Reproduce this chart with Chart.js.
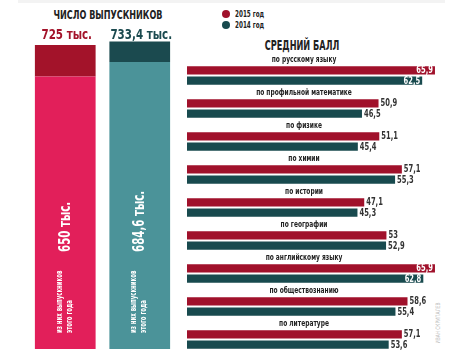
<!DOCTYPE html>
<html><head><meta charset="utf-8">
<script src="https://cdn.jsdelivr.net/npm/chart.js@4"></script>
<style>
html,body{margin:0;padding:0;background:#fff;}
body{width:475px;height:356px;position:relative;overflow:hidden;font-family:"Liberation Sans Narrow","DejaVu Sans Condensed",sans-serif;font-weight:bold;color:#222;}
canvas{position:absolute;top:0;}
#left{left:0;}
#right{left:180px;}
.t{position:absolute;white-space:nowrap;}
.dot{position:absolute;width:8px;height:8px;border-radius:50%;}
</style></head><body>
<div style="position:absolute;left:18px;top:0;width:427px;height:3px;background:#f3f3f3"></div>
<div class="t" style="left:0;width:216px;text-align:center;top:8px;font-size:12px;line-height:14px;transform:scaleX(0.75);">ЧИСЛО ВЫПУСКНИКОВ</div>
<div class="dot" style="left:222px;top:10px;background:#a0112b"></div>
<div class="t" style="left:235px;top:8px;font-size:9px;line-height:12px;transform:scaleX(0.7);transform-origin:left center;">2015 год</div>
<div class="dot" style="left:222px;top:21px;background:#184a4e"></div>
<div class="t" style="left:235px;top:19px;font-size:9px;line-height:12px;transform:scaleX(0.7);transform-origin:left center;">2014 год</div>
<div class="t" style="left:200px;width:204px;text-align:center;top:37px;font-size:14px;line-height:16px;transform:scaleX(0.65);">СРЕДНИЙ БАЛЛ</div>
<div class="t" style="left:437px;top:323px;font-size:6px;line-height:7px;color:#bbb;transform:translate(-50%,-50%) rotate(-90deg) scaleX(0.8);font-weight:normal;">ИВАН СКРИПАЛЕВ</div>
<canvas id="left" width="180" height="356"></canvas>
<canvas id="right" width="295" height="356"></canvas>
<script>
// ---- data ----
const gradCategories = ['2015', '2014'];
const gradTotals = [725, 733.4];          // всего выпускников, тыс.
const gradThisYear = [650, 684.6];        // из них выпускников этого года, тыс.

const subjects = ['по русскому языку','по профильной математике','по физике','по химии','по истории','по географии','по английскому языку','по обществознанию','по литературе'];
const score2015 = [65.9, 50.9, 51.1, 57.1, 47.1, 53, 65.9, 58.6, 57.1];
const score2014 = [62.5, 46.5, 45.4, 55.3, 45.3, 52.9, 62.8, 55.4, 53.6];

const FONT = '"Liberation Sans Narrow","DejaVu Sans Condensed",sans-serif';
const fmt = v => String(v).replace('.', ',');

function txt(ctx, s, x, y, align, k, rot) {
  ctx.save();
  ctx.translate(x, y);
  if (rot) ctx.rotate(rot);
  ctx.scale(k, 1);
  ctx.textAlign = align;
  ctx.textBaseline = 'middle';
  ctx.fillText(s, 0, 0);
  ctx.restore();
}

// ---- left chart ----
const leftLabels = {
  id: 'leftLabels',
  afterDatasetsDraw(chart) {
    const ctx = chart.ctx;
    const base = chart.getDatasetMeta(0);
    const top = chart.getDatasetMeta(1);
    const totalColors = ['#a3132a', '#1b4a4f'];
    ctx.save();
    top.data.forEach((el, i) => {
      ctx.font = 'bold 14px ' + FONT;
      ctx.fillStyle = totalColors[i];
      txt(ctx, fmt(gradTotals[i]) + ' тыс.', el.x + 1.5, chart.chartArea.top + 13, 'center', 0.82);
    });
    base.data.forEach((el, i) => {
      const yb = el.base;
      ctx.fillStyle = '#fff';
      ctx.font = 'bold 15px ' + FONT;
      txt(ctx, fmt(gradThisYear[i]) + ' тыс.', el.x + 0.7, yb - 97, 'left', 0.76, -Math.PI / 2);
      ctx.font = 'bold 8px ' + FONT;
      txt(ctx, 'из них выпускников', el.x - 5.5, yb - 16, 'left', 0.75, -Math.PI / 2);
      txt(ctx, 'этого года', el.x + 4.5, yb - 16, 'left', 0.75, -Math.PI / 2);
    });
    ctx.restore();
  }
};

new Chart(document.getElementById('left'), {
  type: 'bar',
  data: {
    labels: gradCategories,
    datasets: [
      { data: gradThisYear, backgroundColor: ['#e21f5a', '#4b9399'] },
      { data: gradTotals.map((t, i) => t - gradThisYear[i]), backgroundColor: ['#a3132a', '#1b4a4f'] }
    ]
  },
  options: {
    responsive: false, animation: false,
    layout: { padding: { left: 28, right: 3, top: 22, bottom: 7 } },
    datasets: { bar: { categoryPercentage: 1, barPercentage: 0.815 } },
    scales: {
      x: { display: false, stacked: true },
      y: { display: false, stacked: true, min: 0, max: 780 }
    },
    plugins: { legend: { display: false }, tooltip: { enabled: false } }
  },
  plugins: [leftLabels]
});

// ---- right chart ----
const rightLabels = {
  id: 'rightLabels',
  afterDatasetsDraw(chart) {
    const ctx = chart.ctx;
    const ys = chart.scales.y;
    ctx.save();
    ctx.font = 'bold 9px ' + FONT;
    ctx.fillStyle = '#222';
    subjects.forEach((s, i) => {
      txt(ctx, s, 124, ys.getPixelForValue(i) - 15.5, 'center', 0.73);
    });
    ctx.font = 'bold 10px ' + FONT;
    chart.data.datasets.forEach((ds, di) => {
      chart.getDatasetMeta(di).data.forEach((el, i) => {
        const v = ds.data[i];
        if (v >= 60) {
          ctx.fillStyle = '#fff';
          txt(ctx, fmt(v), el.x - 2, el.y + 0.5, 'right', 0.75);
        } else {
          ctx.fillStyle = '#333';
          txt(ctx, fmt(v), el.x + 2, el.y + 0.5, 'left', 0.75);
        }
      });
    });
    ctx.restore();
  }
};

new Chart(document.getElementById('right'), {
  type: 'bar',
  data: {
    labels: subjects,
    datasets: [
      { label: '2015 год', data: score2015, backgroundColor: '#a0112b' },
      { label: '2014 год', data: score2014, backgroundColor: '#184a4e' }
    ]
  },
  options: {
    indexAxis: 'y',
    responsive: false, animation: false,
    layout: { padding: { left: 7, right: 24.6, top: 59, bottom: 0 } },
    datasets: { bar: { categoryPercentage: 0.624, barPercentage: 0.8 } },
    scales: {
      x: { display: false, min: 0, max: 70 },
      y: { display: false }
    },
    plugins: { legend: { display: false }, tooltip: { enabled: false } }
  },
  plugins: [rightLabels]
});
</script>
</body></html>
